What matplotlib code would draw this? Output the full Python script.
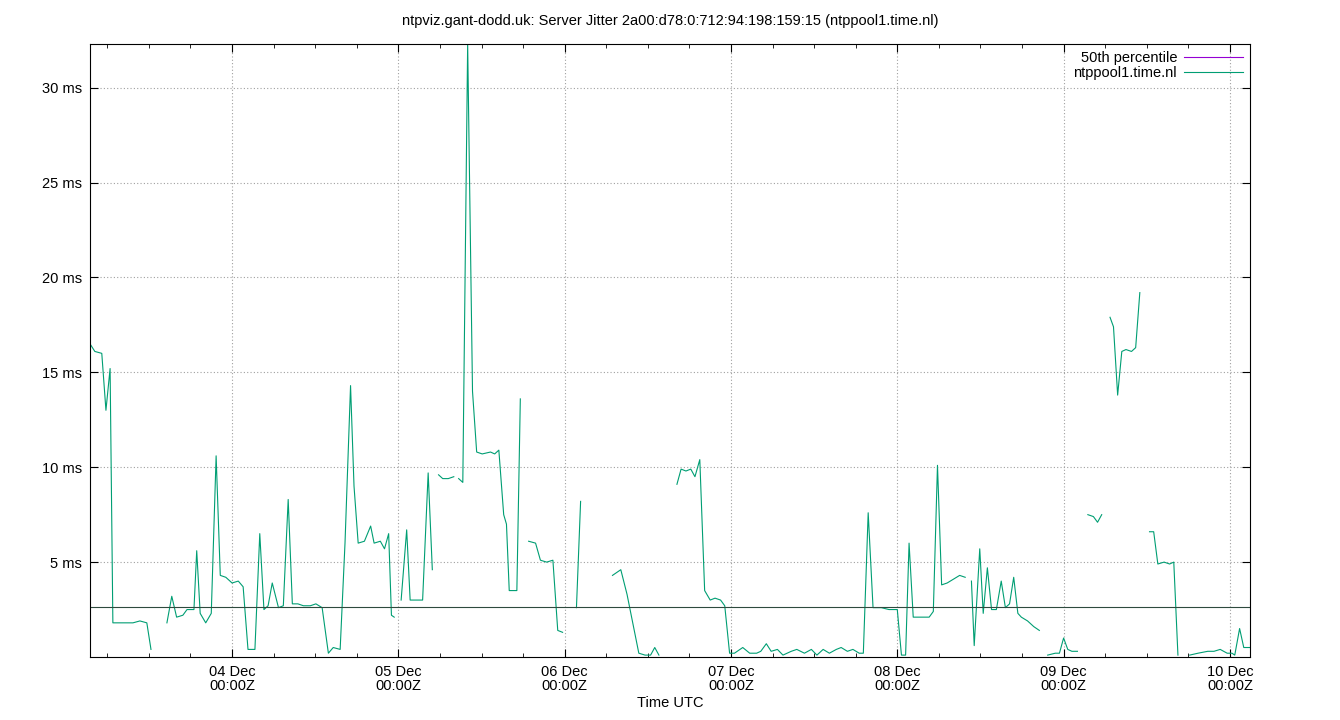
import numpy as np
import matplotlib
matplotlib.use("Agg")
import matplotlib.pyplot as plt
from matplotlib.lines import Line2D

plt.rcParams['font.family'] = ['Liberation Sans', 'DejaVu Sans']

nan = np.nan
# hours since 04 Dec 00:00Z
hours = [-20.5,-19.8,-18.8,-18.2,-17.6,-17.2,-16.5,-15.5,-14.3,-13.3,-12.3,-11.7,nan,
 -9.4,-8.7,-8.0,-7.1,-6.5,-5.5,-5.1,-4.6,-3.8,-3.0,-2.3,-1.7,-0.9,0,0.9,1.6,2.3,3.3,4.0,4.6,5.2,5.8,6.7,7.4,8.1,8.7,9.5,10.3,11.3,12.1,13.0,13.9,14.6,15.6,16.3,17.1,17.6,18.2,19.1,20.0,20.5,21.4,22.0,22.6,23.0,23.4,nan,
 24.4,25.2,25.7,26.6,27.5,28.3,28.9,nan,29.8,30.4,31.2,32.0,nan,32.7,33.3,34.0,34.7,35.3,36.1,37.3,37.9,38.5,39.2,39.6,40.0,41.1,41.6,nan,
 42.8,43.8,44.5,45.4,46.3,47.0,47.7,nan,49.7,50.3,nan,54.9,56.1,57.0,58.7,59.6,60.4,61.0,61.6,nan,
 64.2,64.8,65.5,66.2,66.8,67.5,68.2,69.0,69.7,70.5,71.1,71.8,72.5,73.7,74.7,75.7,76.3,77.1,77.8,78.7,79.5,80.7,81.5,82.6,83.6,84.4,85.3,86.2,87.2,87.9,88.8,89.6,90.5,91.1,91.8,92.5,93.7,94.8,96.0,96.6,97.2,97.7,98.3,99.5,100.6,101.2,101.8,102.4,103.2,104.1,105.0,105.8,nan,
 106.7,107.1,107.9,108.4,109.0,109.6,110.3,111.0,111.6,112.2,112.8,113.4,113.9,114.8,115.7,116.5,nan,
 117.7,118.8,119.4,120.0,120.6,121.2,122.0,nan,123.5,124.3,124.9,125.5,nan,
 126.7,127.2,127.8,128.4,129.0,129.8,130.4,131.0,nan,132.4,133.0,133.6,134.5,135.3,135.9,136.5,nan,
 138.2,139.4,140.8,141.7,142.6,143.6,144.3,144.7,145.4,146.0,146.9]
jitter_ms = [16.5,16.1,16.0,13.0,15.2,1.8,1.8,1.8,1.8,1.9,1.8,0.4,nan,
 1.8,3.2,2.1,2.2,2.5,2.5,5.6,2.3,1.8,2.3,10.6,4.3,4.2,3.9,4.0,3.7,0.4,0.4,6.5,2.5,2.7,3.9,2.6,2.7,8.3,2.8,2.8,2.7,2.7,2.8,2.6,0.2,0.5,0.4,6.0,14.3,9.0,6.0,6.1,6.9,6.0,6.1,5.7,6.5,2.2,2.1,nan,
 3.0,6.7,3.0,3.0,3.0,9.7,4.6,nan,9.6,9.4,9.4,9.5,nan,9.4,9.2,32.3,14.0,10.8,10.7,10.8,10.7,10.9,7.5,7.0,3.5,3.5,13.6,nan,
 6.1,6.0,5.1,5.0,5.1,1.4,1.3,nan,2.6,8.2,nan,4.3,4.6,3.3,0.2,0.1,0.1,0.5,0.1,nan,
 9.1,9.9,9.8,9.9,9.5,10.4,3.5,3.0,3.1,3.0,2.7,0.2,0.2,0.5,0.2,0.2,0.3,0.7,0.3,0.4,0.1,0.3,0.4,0.2,0.4,0.1,0.4,0.2,0.4,0.5,0.3,0.4,0.2,0.2,7.6,2.6,2.6,2.5,2.5,0.1,0.1,6.0,2.1,2.1,2.1,2.4,10.1,3.8,3.9,4.1,4.3,4.2,nan,
 4.0,0.6,5.7,2.3,4.7,2.5,2.5,4.0,2.6,2.8,4.2,2.3,2.1,1.9,1.6,1.4,nan,
 0.1,0.2,0.2,1.0,0.4,0.3,0.3,nan,7.5,7.4,7.1,7.5,nan,
 17.9,17.4,13.8,16.1,16.2,16.1,16.3,19.2,nan,6.6,6.6,4.9,5.0,4.9,5.0,0.1,nan,
 0.1,0.2,0.3,0.3,0.4,0.2,0.2,0.1,1.5,0.5,0.5]
median_ms = 2.63
tick_labels = ["04 Dec\n00:00Z","05 Dec\n00:00Z","06 Dec\n00:00Z","07 Dec\n00:00Z",
               "08 Dec\n00:00Z","09 Dec\n00:00Z","10 Dec\n00:00Z"]
yticks = [5,10,15,20,25,30]

fig = plt.figure(figsize=(13.4,7.2), dpi=100)
ax = fig.add_axes([90/1340, 63/720, 1160/1340, 613/720])
ax.plot(hours, jitter_ms, color="#009e73", lw=0.8)
ax.axhline(median_ms, color="#2e4a3e", lw=0.8)
ax.set_xlim(-20.5, 146.9)
ax.set_ylim(0, 32.3)
ax.set_xticks([24*i for i in range(7)])
ax.set_xticklabels(tick_labels, fontsize=10.5, linespacing=1.0)
ax.set_xticks(np.arange(-18, 147, 6), minor=True)
ax.set_yticks(yticks)
ax.set_yticklabels([f"{v} ms" for v in yticks], fontsize=10.5)
ax.grid(True, which="major", color="#a0a0a0", linestyle=(0,(1,2)), lw=0.8)
ax.tick_params(which="both", direction="in", top=True, right=True)
ax.tick_params(which="minor", length=3)
ax.tick_params(which="major", length=6, pad=6)
ax.set_xlabel("Time UTC", fontsize=10.5, labelpad=2)
ax.set_title("ntpviz.gant-dodd.uk: Server Jitter 2a00:d78:0:712:94:198:159:15 (ntppool1.time.nl)", fontsize=10.5, pad=14)
handles = [Line2D([],[],color="#9400d3",lw=0.8), Line2D([],[],color="#009e73",lw=0.8)]
ax.legend(handles, ["50th percentile","ntppool1.time.nl"], loc="upper right", frameon=False,
          markerfirst=False, fontsize=10.5, handlelength=4, handletextpad=0.5,
          borderaxespad=0.3, borderpad=0.2, labelspacing=0.05)
fig.savefig("out.png", dpi=100)
